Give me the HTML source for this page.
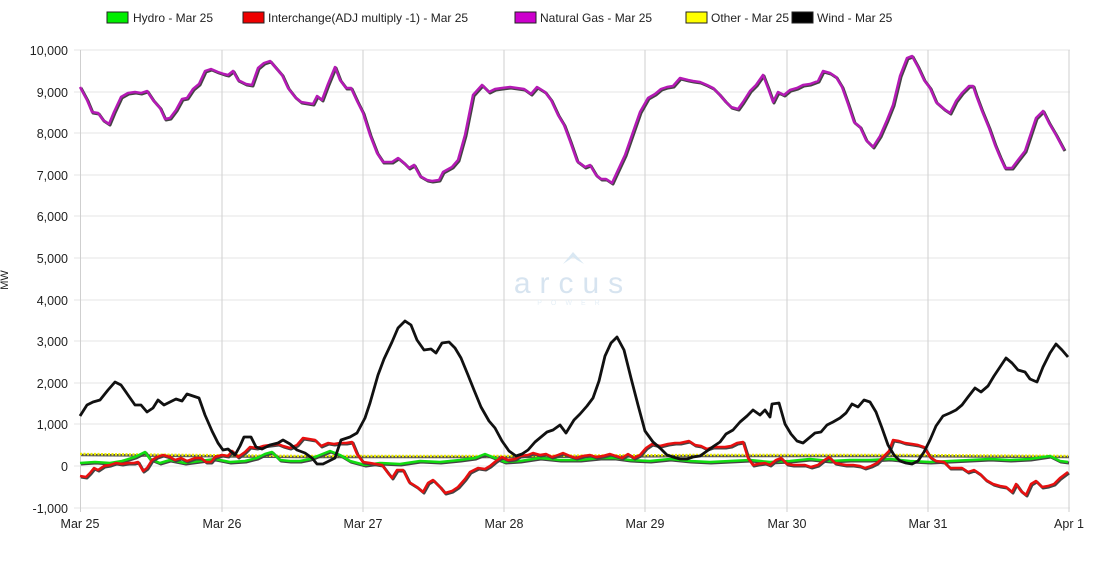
<!DOCTYPE html>
<html><head><meta charset="utf-8"><style>
body{margin:0;background:#fff;width:1100px;height:560px;overflow:hidden}
svg text{font-family:"Liberation Sans",Arial,sans-serif}
</style></head><body>
<svg width="1100" height="560" xmlns="http://www.w3.org/2000/svg">
<g font-size="12" fill="#222">
<rect x="107" y="12" width="21" height="11" fill="#00ee00" stroke="#222"/><text x="133" y="22">Hydro - Mar 25</text>
<rect x="243" y="12" width="21" height="11" fill="#ee0000" stroke="#222"/><text x="268" y="22">Interchange(ADJ multiply -1) - Mar 25</text>
<rect x="515" y="12" width="21" height="11" fill="#cc00cc" stroke="#222"/><text x="540" y="22">Natural Gas - Mar 25</text>
<rect x="686" y="12" width="21" height="11" fill="#ffff00" stroke="#222"/><text x="711" y="22">Other - Mar 25</text>
<rect x="792" y="12" width="21" height="11" fill="#000" stroke="#222"/><text x="817" y="22">Wind - Mar 25</text>
</g>
<g stroke="#e6e6e6" stroke-width="1">
<line x1="74" x2="1070" y1="50" y2="50"/><line x1="74" x2="1070" y1="92" y2="92"/><line x1="74" x2="1070" y1="133" y2="133"/><line x1="74" x2="1070" y1="175" y2="175"/><line x1="74" x2="1070" y1="216" y2="216"/><line x1="74" x2="1070" y1="258" y2="258"/><line x1="74" x2="1070" y1="300" y2="300"/><line x1="74" x2="1070" y1="341" y2="341"/><line x1="74" x2="1070" y1="383" y2="383"/><line x1="74" x2="1070" y1="424" y2="424"/><line x1="74" x2="1070" y1="466" y2="466"/><line x1="74" x2="1070" y1="508" y2="508"/>
</g>
<g stroke="#cfcfcf" stroke-width="1">
<line x1="80.5" x2="80.5" y1="50" y2="512"/><line x1="222" x2="222" y1="50" y2="512"/><line x1="363" x2="363" y1="50" y2="512"/><line x1="504" x2="504" y1="50" y2="512"/><line x1="645" x2="645" y1="50" y2="512"/><line x1="787" x2="787" y1="50" y2="512"/><line x1="928" x2="928" y1="50" y2="512"/><line x1="1069" x2="1069" y1="50" y2="512"/>
</g>
<g font-size="12.5" fill="#222" text-anchor="end">
<text x="68" y="55">10,000</text><text x="68" y="97">9,000</text><text x="68" y="138">8,000</text><text x="68" y="180">7,000</text><text x="68" y="221">6,000</text><text x="68" y="263">5,000</text><text x="68" y="305">4,000</text><text x="68" y="346">3,000</text><text x="68" y="388">2,000</text><text x="68" y="429">1,000</text><text x="68" y="471">0</text><text x="68" y="513">-1,000</text>
</g>
<g font-size="12.5" fill="#222" text-anchor="middle">
<text x="80" y="528">Mar 25</text><text x="222" y="528">Mar 26</text><text x="363" y="528">Mar 27</text><text x="504" y="528">Mar 28</text><text x="645" y="528">Mar 29</text><text x="787" y="528">Mar 30</text><text x="928" y="528">Mar 31</text><text x="1069" y="528">Apr 1</text>
</g>
<text x="8" y="280" font-size="11" fill="#222" transform="rotate(-90 8 280)" text-anchor="middle">MW</text>
<g opacity="0.9">
<polygon points="563,264 573,252 584,264 577,260 573,257 569,260" fill="#d6e6f2"/>
<text x="573" y="293" font-size="30" fill="#d3e2ef" text-anchor="middle" letter-spacing="9">arcus</text>
<text x="573" y="305" font-size="7" fill="#e3eef6" text-anchor="middle" letter-spacing="9">POWER</text>
</g>
<g fill="none" stroke-linejoin="round">
<polyline stroke="#555" stroke-width="2.5" points="80,454 300,456 500,456 700,455 900,455 1068,456" transform="translate(1,1)"/>
<polyline stroke="#e8e800" stroke-width="2.5" stroke-dasharray="2 1.5" points="80,454 300,456 500,456 700,455 900,455 1068,456"/>
<polyline stroke="#444" stroke-width="3" transform="translate(1,1)" points="80,463 95,462 110,463 122,461 135,457 145,452 150,459 160,463 170,460 185,463 200,461 215,459 230,462 245,461 257,458 265,454 272,452 280,460 290,461 300,461 310,459 320,455 330,451 340,455 350,461 365,465 380,463 400,464 420,461 440,462 460,460 475,458 485,454 495,458 505,462 520,461 540,458 560,460 580,460 600,458 615,458 630,460 650,461 670,459 690,461 710,462 730,461 750,460 770,462 790,461 810,459 830,461 850,460 870,460 890,459 910,461 930,462 950,461 970,460 990,459 1010,460 1030,459 1050,456 1060,461 1068,462"/>
<polyline stroke="#11dd11" stroke-width="2.5" points="80,463 95,462 110,463 122,461 135,457 145,452 150,459 160,463 170,460 185,463 200,461 215,459 230,462 245,461 257,458 265,454 272,452 280,460 290,461 300,461 310,459 320,455 330,451 340,455 350,461 365,465 380,463 400,464 420,461 440,462 460,460 475,458 485,454 495,458 505,462 520,461 540,458 560,460 580,460 600,458 615,458 630,460 650,461 670,459 690,461 710,462 730,461 750,460 770,462 790,461 810,459 830,461 850,460 870,460 890,459 910,461 930,462 950,461 970,460 990,459 1010,460 1030,459 1050,456 1060,461 1068,462"/>
<polyline stroke="#444" stroke-width="3" transform="translate(1,1)" points="80,476 86,477 90,473 94,468 98,470 104,466 110,465 116,463 122,464 128,463 134,463 138,462 143,471 147,468 152,460 157,457 163,455 170,457 175,460 181,458 187,461 195,458 201,458 206,462 211,462 215,457 222,455 228,456 232,451 238,457 245,452 250,447 257,448 263,446 270,445 278,444 283,446 290,448 297,445 303,438 309,439 315,440 321,446 328,443 334,444 340,443 346,443 352,442 357,454 363,462 370,463 376,464 382,465 388,473 392,478 397,470 403,470 409,482 417,487 423,492 428,483 433,480 440,487 445,493 452,491 458,487 465,479 470,472 478,468 485,469 490,466 496,461 502,457 508,460 515,459 520,456 528,455 533,453 540,455 546,454 552,457 558,455 563,453 570,456 576,458 583,456 590,455 596,457 603,456 610,454 616,456 622,458 628,454 634,458 640,455 646,448 652,444 660,446 668,444 675,443 680,443 689,441 695,445 701,446 707,449 713,447 718,447 725,447 731,446 737,443 743,442 748,458 753,465 758,464 765,463 770,465 776,460 781,458 787,464 793,465 799,465 805,465 811,467 818,465 823,461 829,457 835,463 840,464 846,465 853,465 860,466 865,468 871,466 877,463 883,457 889,451 893,440 899,441 905,443 912,444 918,445 924,447 930,457 936,461 944,462 950,468 956,468 962,468 968,472 974,470 980,474 986,480 993,484 1000,486 1006,487 1012,492 1016,484 1021,491 1026,495 1031,484 1036,481 1042,487 1048,486 1054,484 1060,478 1068,472"/>
<polyline stroke="#e81010" stroke-width="2.5" points="80,476 86,477 90,473 94,468 98,470 104,466 110,465 116,463 122,464 128,463 134,463 138,462 143,471 147,468 152,460 157,457 163,455 170,457 175,460 181,458 187,461 195,458 201,458 206,462 211,462 215,457 222,455 228,456 232,451 238,457 245,452 250,447 257,448 263,446 270,445 278,444 283,446 290,448 297,445 303,438 309,439 315,440 321,446 328,443 334,444 340,443 346,443 352,442 357,454 363,462 370,463 376,464 382,465 388,473 392,478 397,470 403,470 409,482 417,487 423,492 428,483 433,480 440,487 445,493 452,491 458,487 465,479 470,472 478,468 485,469 490,466 496,461 502,457 508,460 515,459 520,456 528,455 533,453 540,455 546,454 552,457 558,455 563,453 570,456 576,458 583,456 590,455 596,457 603,456 610,454 616,456 622,458 628,454 634,458 640,455 646,448 652,444 660,446 668,444 675,443 680,443 689,441 695,445 701,446 707,449 713,447 718,447 725,447 731,446 737,443 743,442 748,458 753,465 758,464 765,463 770,465 776,460 781,458 787,464 793,465 799,465 805,465 811,467 818,465 823,461 829,457 835,463 840,464 846,465 853,465 860,466 865,468 871,466 877,463 883,457 889,451 893,440 899,441 905,443 912,444 918,445 924,447 930,457 936,461 944,462 950,468 956,468 962,468 968,472 974,470 980,474 986,480 993,484 1000,486 1006,487 1012,492 1016,484 1021,491 1026,495 1031,484 1036,481 1042,487 1048,486 1054,484 1060,478 1068,472"/>
<polyline stroke="#111" stroke-width="2.8" points="80,416 87,405 93,402 100,400 108,390 115,382 121,385 128,395 135,405 141,405 147,412 153,408 158,400 164,405 170,402 176,399 182,401 187,394 193,396 199,398 205,415 212,431 218,443 223,450 228,449 235,455 240,446 244,437 251,437 256,447 262,449 270,445 278,443 283,440 290,444 297,450 305,453 312,458 317,464 323,464 329,461 335,458 341,440 350,437 357,433 365,418 370,403 378,375 384,359 392,342 398,328 405,321 411,325 417,340 424,350 431,349 436,353 442,343 449,342 455,348 461,358 468,375 474,390 481,407 489,421 495,428 502,441 509,451 516,456 522,454 528,450 535,442 541,437 547,432 553,430 560,425 566,433 574,420 580,414 587,406 593,398 599,381 605,356 611,343 617,337 624,350 631,378 638,405 645,431 653,442 660,448 667,455 673,457 680,459 687,459 693,457 700,456 707,451 714,446 720,442 726,434 733,430 740,422 747,416 753,410 760,415 765,410 770,417 772,404 779,403 785,424 791,434 797,441 803,443 809,438 815,433 821,432 827,425 833,422 840,418 846,413 852,404 858,407 864,400 870,402 876,412 882,428 888,445 894,455 900,461 906,463 912,464 918,461 924,452 930,440 936,426 943,416 950,413 956,410 962,405 968,397 975,388 981,392 988,386 994,376 1000,367 1006,358 1012,363 1018,370 1025,372 1030,379 1037,382 1043,367 1050,353 1056,344 1062,350 1068,357"/>
<polyline stroke="#444" stroke-width="3" transform="translate(1,1)" points="80,87 87,100 92,112 98,113 103,120 109,124 114,112 121,97 128,93 135,92 141,93 147,91 153,100 160,108 165,119 170,118 176,110 182,99 187,98 193,89 199,84 205,71 211,69 218,72 224,74 228,75 233,71 238,80 246,84 252,85 258,68 264,63 270,61 276,68 282,75 288,88 295,97 301,102 307,103 313,104 317,96 322,100 328,84 335,67 340,80 346,88 351,88 357,101 363,113 370,135 377,153 383,162 387,162 392,162 398,158 404,163 409,168 414,165 420,176 427,180 432,181 439,180 443,172 452,167 458,160 465,135 473,95 482,85 489,92 495,89 502,88 510,87 517,88 524,89 531,94 537,87 545,92 551,100 558,115 564,125 570,141 577,161 585,167 590,165 596,175 601,179 606,179 612,183 618,170 625,155 633,132 640,112 648,98 655,94 661,89 667,87 673,86 680,78 688,80 693,81 700,82 707,85 713,88 719,94 725,101 731,107 738,109 743,102 750,91 756,85 763,75 768,88 773,102 778,92 784,95 790,90 797,88 803,85 810,84 818,81 823,71 830,73 836,77 842,87 848,104 854,122 860,127 866,140 873,147 880,136 887,120 893,105 900,76 907,58 912,56 918,67 924,80 930,88 936,102 944,109 950,113 956,101 962,93 969,86 973,86 976,95 982,111 989,128 995,145 1000,157 1005,168 1012,168 1018,160 1025,151 1030,136 1036,118 1043,111 1049,123 1056,135 1064,150"/>
<polyline stroke="#b51ab5" stroke-width="2.5" points="80,87 87,100 92,112 98,113 103,120 109,124 114,112 121,97 128,93 135,92 141,93 147,91 153,100 160,108 165,119 170,118 176,110 182,99 187,98 193,89 199,84 205,71 211,69 218,72 224,74 228,75 233,71 238,80 246,84 252,85 258,68 264,63 270,61 276,68 282,75 288,88 295,97 301,102 307,103 313,104 317,96 322,100 328,84 335,67 340,80 346,88 351,88 357,101 363,113 370,135 377,153 383,162 387,162 392,162 398,158 404,163 409,168 414,165 420,176 427,180 432,181 439,180 443,172 452,167 458,160 465,135 473,95 482,85 489,92 495,89 502,88 510,87 517,88 524,89 531,94 537,87 545,92 551,100 558,115 564,125 570,141 577,161 585,167 590,165 596,175 601,179 606,179 612,183 618,170 625,155 633,132 640,112 648,98 655,94 661,89 667,87 673,86 680,78 688,80 693,81 700,82 707,85 713,88 719,94 725,101 731,107 738,109 743,102 750,91 756,85 763,75 768,88 773,102 778,92 784,95 790,90 797,88 803,85 810,84 818,81 823,71 830,73 836,77 842,87 848,104 854,122 860,127 866,140 873,147 880,136 887,120 893,105 900,76 907,58 912,56 918,67 924,80 930,88 936,102 944,109 950,113 956,101 962,93 969,86 973,86 976,95 982,111 989,128 995,145 1000,157 1005,168 1012,168 1018,160 1025,151 1030,136 1036,118 1043,111 1049,123 1056,135 1064,150"/>
</g>
</svg>
</body></html>
